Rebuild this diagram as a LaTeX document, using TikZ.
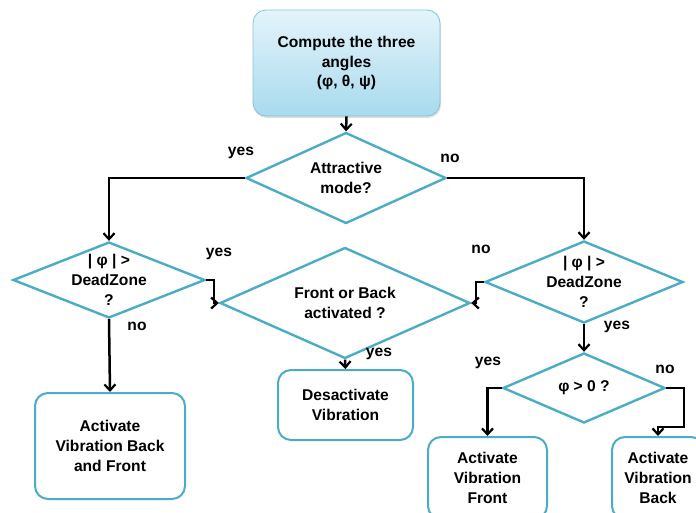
\documentclass[tikz,border=0pt]{standalone}
\usepackage{fontspec}
\setmainfont{Liberation Sans}
\usepackage{xcolor}
\usetikzlibrary{shapes.geometric,arrows.meta,shadows}

\definecolor{flowblue}{RGB}{75,172,198}
\definecolor{topfill}{RGB}{228,244,251}
\definecolor{botfill}{RGB}{168,218,238}
\newcommand{\boxfont}{\fontsize{15.6}{19.8}\selectfont\bfseries}

\tikzset{
  decision/.style={diamond, draw=flowblue, line width=2.4pt, inner sep=0pt},
  action/.style={rectangle, draw=flowblue, rounded corners=13pt, line width=2pt,
                 align=center, font=\boxfont},
  qtext/.style={align=center, font=\boxfont},
  ans/.style={font=\boxfont},
  flow/.style={-{Straight Barb[length=6pt,width=11pt,line width=2.2pt]}, line width=2.5pt, black}
}

\begin{document}
\begin{tikzpicture}[x=1pt,y=-1pt]
		\useasboundingbox (0,0) rectangle (696,512);
		\clip (0,0) rectangle (696,512);
		% start
		\node[action, draw=flowblue!70, line width=0.8pt, top color=topfill, bottom color=botfill,
		      drop shadow={opacity=0.25,shadow xshift=1pt,shadow yshift=-2pt},
		      minimum width=187pt, minimum height=106pt] (angles) at (346.5,63)
		      {Compute the three\\angles\\(φ, θ, ψ)};
		% decisions
		\node[decision, minimum width=200pt, minimum height=91pt,
		      label={[qtext]center:{Attractive\\mode?}}] (attr) at (346,178) {};
		\node[decision, minimum width=192pt, minimum height=76pt,
		      label={[qtext]center:{| φ | >\\DeadZone\\?}}] (dzleft) at (109,280) {};
		\node[decision, minimum width=198pt, minimum height=82pt,
		      label={[qtext]center:{| φ | >\\DeadZone\\?}}] (dzright) at (584,282) {};
		\node[decision, minimum width=250pt, minimum height=111pt,
		      label={[qtext]center:{Front or Back\\activated ?}}] (fob) at (345,303) {};
		\node[decision, minimum width=162pt, minimum height=70pt,
		      label={[qtext]center:{φ > 0 ?}}] (sign) at (584,388) {};
		% actions
		\node[action, minimum width=150pt, minimum height=106pt] (both) at (110,446)
		      {Activate\\Vibration Back\\and Front};
		\node[action, minimum width=135pt, minimum height=70pt] (off) at (345.5,405)
		      {Desactivate\\Vibration};
		\node[action, minimum width=119pt, minimum height=82pt] (front) at (487.5,478)
		      {Activate\\Vibration\\Front};
		\node[action, minimum width=92pt, minimum height=82pt] (back) at (658,478)
		      {Activate\\Vibration\\Back};
		% connectors
		\draw[flow] (angles.south) -- (attr.north);
		\draw[flow] (attr.west) -| (dzleft.north);
		\draw[flow] (attr.east) -| (dzright.north);
		\draw[flow] (dzleft.south) -- (both.north);
		\draw[flow] (dzleft.east) -- ++(8,0) |- (fob.west);
		\draw[flow] (dzright.west) -- ++(-8,0) |- (fob.east);
		\draw[flow] (fob.south) -- (off.north);
		\draw[flow] (dzright.south) -- (sign.north);
		\draw[flow] (sign.west) -| (front.north);
		\draw[flow] (sign.east) -- ++(18,0) |- ([yshift=9pt]back.north) -- (back.north);
		% answers
		\node[ans] (a1) at (241,153) {yes};
		\node[ans] (a2) at (450,158) {no};
		\node[ans] (a3) at (219,254) {yes};
		\node[ans] (a4) at (137,326) {no};
		\node[ans] (a5) at (481,249) {no};
		\node[ans] (a6) at (379,354) {yes};
		\node[ans] (a7) at (617,327) {yes};
		\node[ans] (a8) at (488,363) {yes};
		\node[ans] (a9) at (665,369) {no};
	\end{tikzpicture}
\end{document}
